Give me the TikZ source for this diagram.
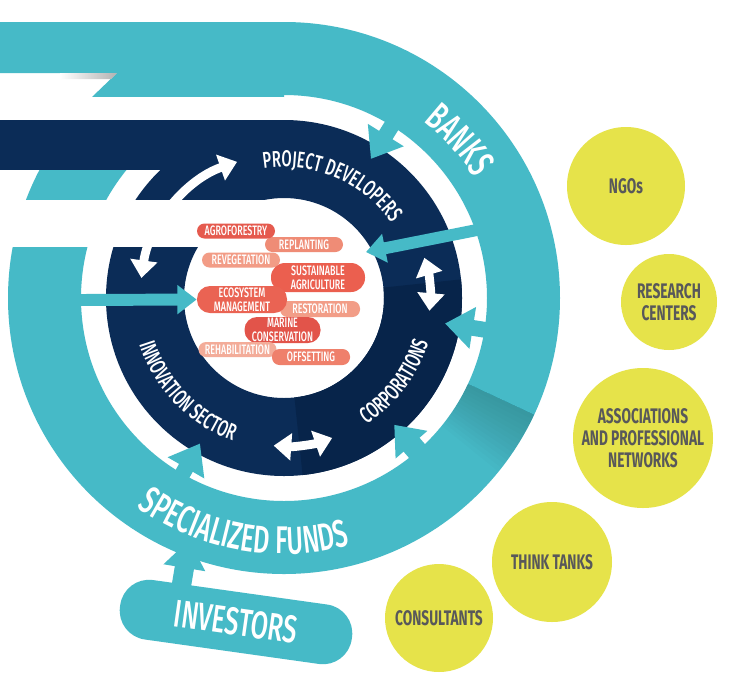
\documentclass[tikz,border=0pt]{standalone}
\usepackage{fontspec}
\usepackage{tikz}
\usetikzlibrary{arrows.meta}
\usetikzlibrary{decorations.text}
\IfFontExistsTF{Fira Sans Medium}
    {\newfontfamily\cond[FakeStretch=0.65]{Fira Sans Medium}}
    {\newfontfamily\cond[FakeStretch=0.65]{Fira Sans}}
\newfontfamily\condbold[FakeStretch=0.65]{Fira Sans Bold}
\definecolor{ringteal}{HTML}{46BAC7}
\definecolor{ringnavy}{HTML}{0B2C57}
\definecolor{darknavy}{HTML}{07244A}
\definecolor{blobyellow}{HTML}{E6E34A}
\definecolor{blobtext}{HTML}{58585A}
\definecolor{agrored}{HTML}{E55A4E}
\definecolor{replantred}{HTML}{EF8C76}
\definecolor{revegred}{HTML}{F29C86}
\definecolor{sustainred}{HTML}{EB5F4F}
\definecolor{ecored}{HTML}{EA6353}
\definecolor{restorred}{HTML}{F29D87}
\definecolor{marinered}{HTML}{E2544A}
\definecolor{rehabred}{HTML}{F3AC99}
\definecolor{offsetred}{HTML}{EF806B}
\newlength{\pxl}
\setlength{\pxl}{0.02cm}
\newcommand\ringfont{\cond\fontsize{13}{13}\selectfont}
\newcommand\bigfont{\cond\fontsize{22}{22}\selectfont}

\begin{document}
\begin{tikzpicture}[x=0.02cm, y=0.02cm,
    pill/.style={rounded corners=7.5\pxl, minimum width=78\pxl, minimum height=15\pxl,
                 inner sep=0pt, text=white, align=center,
                 font=\cond\fontsize{7.8}{8}\selectfont},
    blob/.style={circle, fill=blobyellow, inner sep=0pt, text=blobtext, align=center,
                 font=\condbold\fontsize{12}{12.5}\selectfont},
    tealarrow/.style={color=ringteal, line width=9pt, -{Triangle[width=23pt, length=16pt]}},
    thinarrow/.style={color=ringteal, line width=6.8pt, -{Triangle[width=16pt, length=11pt]}},
    twoarrow/.style={color=ringteal, line width=12pt,
                 {Triangle[width=23pt, length=15pt]}-{Triangle[width=23pt, length=15pt]}},
    whitearrow/.style={color=white, line width=5pt,
                 {Triangle[width=15pt, length=10pt]}-{Triangle[width=15pt, length=10pt]}},
    ringtext/.style={decorate, decoration={text along path, text color=white,
                 text align=center, text={|\ringfont|#1}}},
    bigtext/.style={decorate, decoration={text along path, text color=white,
                 text align=center, text={|\bigfont|#1}}}]

    \fill[white] (0,0) rectangle (731,-691);
    \useasboundingbox (0,0) rectangle (731,-691);
    \coordinate (c) at (284,-298);

    % outer ribbon: banks and specialized funds
    \fill[ringteal, even odd rule] (c) circle[radius=276] (c) circle[radius=203];
    \fill[ringteal] (0,-22) -- (284,-22) -- (284,-97) -- (92,-97) -- (117,-73) -- (0,-73) -- cycle;
    \fill[white] (0,-97) rectangle (284,-120);
    \shade[left color=white, right color=black!30] (60,-73) -- (117,-73) -- (111,-79) -- (60,-79) -- cycle;
    \foreach \k in {1,...,14}
        \fill[black, opacity=0.012] ([shift={(-25:203)}]c)
            arc[start angle=-25, end angle={-25-1*\k}, radius=203]
            -- ([shift={({-25-1*\k}:276)}]c)
            arc[start angle={-25-1*\k}, end angle=-25, radius=276] -- cycle;

    % middle ribbon: developers, corporations, innovation
    \fill[ringnavy, even odd rule] (c) circle[radius=178] (c) circle[radius=100];
    \fill[darknavy] ([shift={(6:178)}]c) arc[start angle=6, end angle=-84, radius=178]
        -- ([shift={(-84:100)}]c) arc[start angle=-84, end angle=6, radius=100] -- cycle;
    \fill[ringnavy] (0,-120) rectangle (284,-170);
    \fill[white] (0,-200) rectangle (284,-247);

    % ring labels
    \path[ringtext=PROJECT DEVELOPERS] ([shift={(110:131)}]c) arc[start angle=110, end angle=24, radius=131];
    \path[ringtext=CORPORATIONS] ([shift={(-68:151)}]c) arc[start angle=-68, end angle=-6, radius=151];
    \path[ringtext=INNOVATION SECTOR] ([shift={(182:152)}]c) arc[start angle=182, end angle=266, radius=152];
    \path[bigtext=BANKS] ([shift={(65:225)}]c) arc[start angle=65, end angle=19, radius=225];
    \path[bigtext=SPECIALIZED FUNDS] ([shift={(213:256)}]c) arc[start angle=213, end angle=307, radius=256];

    % white flows inside the navy ring
    \draw[whitearrow] ([shift={(172:144)}]c) arc[start angle=172, end angle=109, radius=144];
    \draw[whitearrow] ([shift={(16:146)}]c) arc[start angle=16, end angle=-5, radius=146];
    \draw[whitearrow] ([shift={(266:148)}]c) arc[start angle=266, end angle=289, radius=148];

    % activities
    \node[pill, fill=replantred]  (replant) at (304,-244.5) {REPLANTING};
    \node[pill, fill=agrored]     (agro)    at (236,-231)   {AGROFORESTRY};
    \node[pill, fill=revegred]    (reveg)   at (241,-260)   {REVEGETATION};
    \node[pill, fill=sustainred, minimum width=94\pxl, minimum height=29\pxl, rounded corners=14\pxl]
                                  (sustain) at (318,-277.5) {SUSTAINABLE\\AGRICULTURE};
    \node[pill, fill=restorred, minimum width=80\pxl, minimum height=16\pxl]
                                  (restor)  at (320,-309)   {RESTORATION};
    \node[pill, fill=ecored, minimum width=90\pxl, minimum height=27\pxl, rounded corners=13\pxl]
                                  (eco)     at (242,-299.5) {ECOSYSTEM\\MANAGEMENT};
    \node[pill, fill=marinered, minimum width=76\pxl, minimum height=26\pxl, rounded corners=12.5\pxl]
                                  (marine)  at (282.5,-330) {MARINE\\CONSERVATION};
    \node[pill, fill=rehabred]    (rehab)   at (237.5,-349.5) {REHABILITATION};
    \node[pill, fill=offsetred, minimum height=16\pxl]
                                  (offset)  at (311,-357)   {OFFSETTING};

    % teal flows
    \coordinate (banksin)   at ([shift={(58:215)}]c);
    \coordinate (devtip)    at ([shift={(58:164)}]c);
    \coordinate (banksout)  at (487,-228);
    \coordinate (coretip)   at (366,-252);
    \coordinate (leftout)   at (78,-300);
    \coordinate (banksside) at ([shift={(-9:218)}]c);
    \coordinate (corptip)   at ([shift={(-9:163)}]c);
    \coordinate (fundsin)   at ([shift={(-49:242)}]c);
    \coordinate (corpin)    at ([shift={(-49:168)}]c);
    \coordinate (fundsleft) at ([shift={(-120:220)}]c);
    \coordinate (innovtip)  at ([shift={(-120:168)}]c);
    \draw[tealarrow] (banksin) -- (devtip);
    \draw[thinarrow] (banksout) -- (coretip);
    \draw[thinarrow] (leftout) -- (eco.west);
    \draw[tealarrow] (banksside) -- (corptip);
    \draw[twoarrow] (corpin) -- (fundsin);
    \draw[tealarrow] (fundsleft) -- (innovtip);

    % investors
    \node[fill=ringteal, rounded corners=29\pxl, minimum width=234\pxl, minimum height=60\pxl,
          rotate=-8, text=white, font=\bigfont] (investors) at (236,-622) {INVESTORS};
    \coordinate (invtop)   at (180,-594);
    \coordinate (fundstip) at (189,-540);
    \draw[tealarrow, line width=11pt] (invtop) -- (fundstip);

    % other actors
    \node[blob, minimum size=118\pxl] (ngo)      at (626,-186) {NGOs};
    \node[blob, minimum size=96\pxl]  (research) at (669,-302) {RESEARCH\\CENTERS};
    \node[blob, minimum size=140\pxl] (assoc)    at (643,-438) {ASSOCIATIONS\\AND PROFESSIONAL\\NETWORKS};
    \node[blob, minimum size=120\pxl] (think)    at (552,-562) {THINK TANKS};
    \node[blob, minimum size=108\pxl] (consult)  at (439,-618) {CONSULTANTS};
\end{tikzpicture}
\end{document}
